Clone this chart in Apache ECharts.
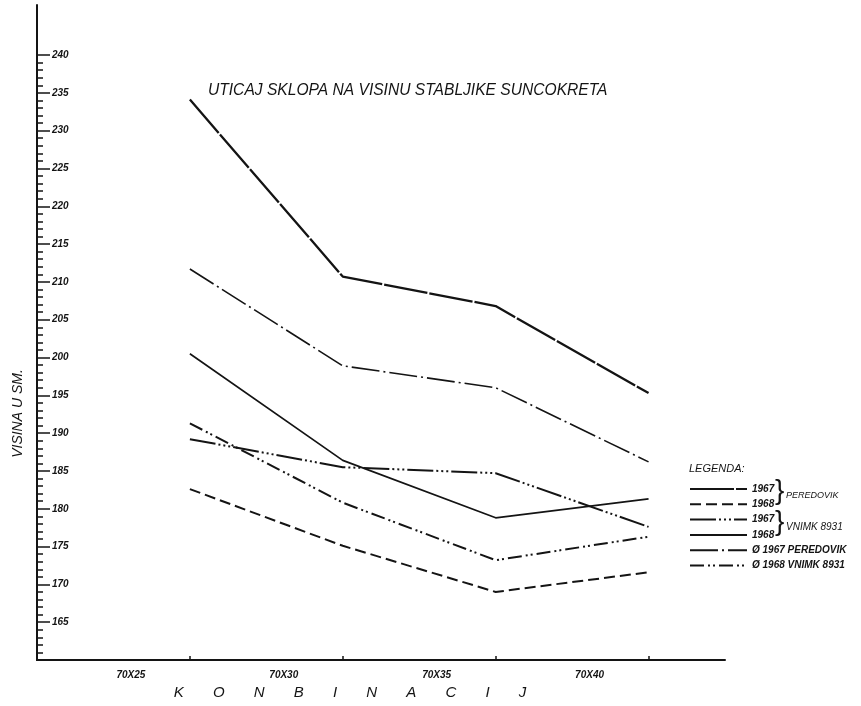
<!DOCTYPE html>
<html>
<head>
<meta charset="utf-8">
<script src="https://cdn.jsdelivr.net/npm/echarts@6/dist/echarts.min.js"></script>
<style>html,body{margin:0;padding:0;background:#fff;}#c{width:861px;height:706px;}</style>
</head>
<body>
<div id="c"></div>
<script>
// Data
const categories = ['70X25', '70X30', '70X35', '70X40'];
const xPositions = [1, 2, 3, 4];
const peredovik1967 = [234.1, 210.7, 206.8, 195.3];
const peredovik1968 = [182.6, 175.1, 169.0, 171.6];
const vnimk1967 = [189.2, 185.5, 184.7, 177.6];
const vnimk1968 = [200.5, 186.4, 178.8, 181.3];
const avg1967 = [211.7, 198.9, 196.0, 186.2];
const avg1968 = [191.3, 180.8, 173.2, 176.3];
const yTicks = { min: 160, max: 240, interval: 5 };
const legendShort = ['1967', '1968', '1967', '1968', 'Ø 1967 PEREDOVIK', 'Ø 1968 VNIMK 8931'];
const seriesNames = ['1967 PEREDOVIK', '1968 PEREDOVIK', '1967 VNIMK 8931', '1968 VNIMK 8931', 'Ø 1967 PEREDOVIK', 'Ø 1968 VNIMK 8931'];

const ink = '#141414';
const font = 'Liberation Sans';
function pts(arr) { return arr.map((v, i) => [xPositions[i], v]); }

const styles = [
  { data: peredovik1967, width: 2.3, type: [44, 2] },
  { data: peredovik1968, width: 2, type: [11, 5] },
  { data: vnimk1967, width: 2, type: [26, 3, 2, 3, 2, 3, 2, 3] },
  { data: vnimk1968, width: 1.7, type: 'solid' },
  { data: avg1967, width: 1.6, type: [28, 4, 2, 4] },
  { data: avg1968, width: 2, type: [14, 4, 2, 3, 2, 4] }
];

const chart = echarts.init(document.getElementById('c'), null, { renderer: 'canvas' });
chart.setOption({
  backgroundColor: '#ffffff',
  animation: false,
  title: [
    { text: 'UTICAJ SKLOPA NA VISINU STABLJIKE SUNCOKRETA', left: 203, top: 78,
      textStyle: { fontFamily: font, fontSize: 15.6, fontWeight: 'normal', fontStyle: 'italic', color: ink } },
    { text: 'LEGENDA:', left: 684, top: 458,
      textStyle: { fontFamily: font, fontSize: 11, fontWeight: 'normal', fontStyle: 'italic', color: ink } },
    { text: '}', left: 770, top: 472,
      textStyle: { fontFamily: font, fontSize: 28, fontWeight: 'normal', color: ink } },
    { text: 'PEREDOVIK', left: 781, top: 486,
      textStyle: { fontFamily: font, fontSize: 9, fontWeight: 'normal', fontStyle: 'italic', color: ink } },
    { text: '}', left: 770, top: 503,
      textStyle: { fontFamily: font, fontSize: 28, fontWeight: 'normal', color: ink } },
    { text: 'VNIMK 8931', left: 781, top: 517,
      textStyle: { fontFamily: font, fontSize: 10, fontWeight: 'normal', fontStyle: 'italic', color: ink } }
  ],
  legend: {
    orient: 'vertical', left: 684, top: 479,
    itemWidth: 57, itemHeight: 10, itemGap: 5.3,
    data: seriesNames,
    itemStyle: { color: 'rgba(0,0,0,0)', borderWidth: 0, borderColor: 'rgba(0,0,0,0)' },
    formatter: function (name) { return legendShort[seriesNames.indexOf(name)]; },
    textStyle: { fontFamily: font, fontSize: 10, fontWeight: 'bold', fontStyle: 'italic', color: ink },
    selectedMode: false
  },
  grid: [
    { left: 37, right: 136, top: 55, bottom: 46 },
    { left: 37, right: 136, top: 5, bottom: 46 }
  ],
  xAxis: [
    { type: 'value', gridIndex: 0, min: 0, max: 4.5, interval: 1,
      name: 'K       O       N       B       I       N       A       C       I       J',
      nameLocation: 'middle', nameGap: 22,
      nameTextStyle: { fontFamily: font, fontSize: 15, fontStyle: 'italic', color: ink, padding: [0, 62, 0, 0] },
      axisLine: { show: true, lineStyle: { color: ink, width: 2 } },
      axisTick: { show: true, inside: true, length: 4, customValues: xPositions, lineStyle: { color: ink, width: 1.5 } },
      axisLabel: { customValues: xPositions, margin: 10, padding: [0, 118, 0, 0],
        formatter: function (v) { const i = xPositions.indexOf(v); return i >= 0 ? categories[i] : ''; },
        fontFamily: font, fontSize: 10, fontWeight: 'bold', fontStyle: 'italic', color: ink },
      splitLine: { show: false } },
    { type: 'value', gridIndex: 1, min: 0, max: 4.5, show: false }
  ],
  yAxis: [
    { type: 'value', gridIndex: 0, min: yTicks.min, max: yTicks.max, interval: yTicks.interval,
      name: 'VISINA U SM.', nameLocation: 'middle', nameGap: 12, nameRotate: 90,
      nameTextStyle: { fontFamily: font, fontSize: 14, fontStyle: 'italic', color: ink, padding: [0, 112, 0, 0] },
      axisLine: { show: true, lineStyle: { color: ink, width: 2 } },
      axisTick: { show: true, inside: true, length: 13, lineStyle: { color: ink, width: 1.5 } },
      minorTick: { show: true, splitNumber: 5, length: 6, lineStyle: { color: ink, width: 1.5 } },
      axisLabel: { inside: true, margin: 15, showMinLabel: false,
        fontFamily: font, fontSize: 10, fontWeight: 'bold', fontStyle: 'italic', color: ink },
      splitLine: { show: false }, minorSplitLine: { show: false } },
    { type: 'value', gridIndex: 1, min: yTicks.min, max: 246.6,
      axisLine: { show: true, lineStyle: { color: ink, width: 2 } },
      axisTick: { show: false }, axisLabel: { show: false }, splitLine: { show: false } }
  ],
  series: styles.map((s, i) => ({
    name: seriesNames[i], type: 'line', xAxisIndex: 0, yAxisIndex: 0,
    data: pts(s.data), symbol: 'none', showSymbol: false,
    lineStyle: { color: ink, width: s.width, type: s.type },
    itemStyle: { color: ink },
    z: 3
  }))
});
</script>
</body>
</html>
